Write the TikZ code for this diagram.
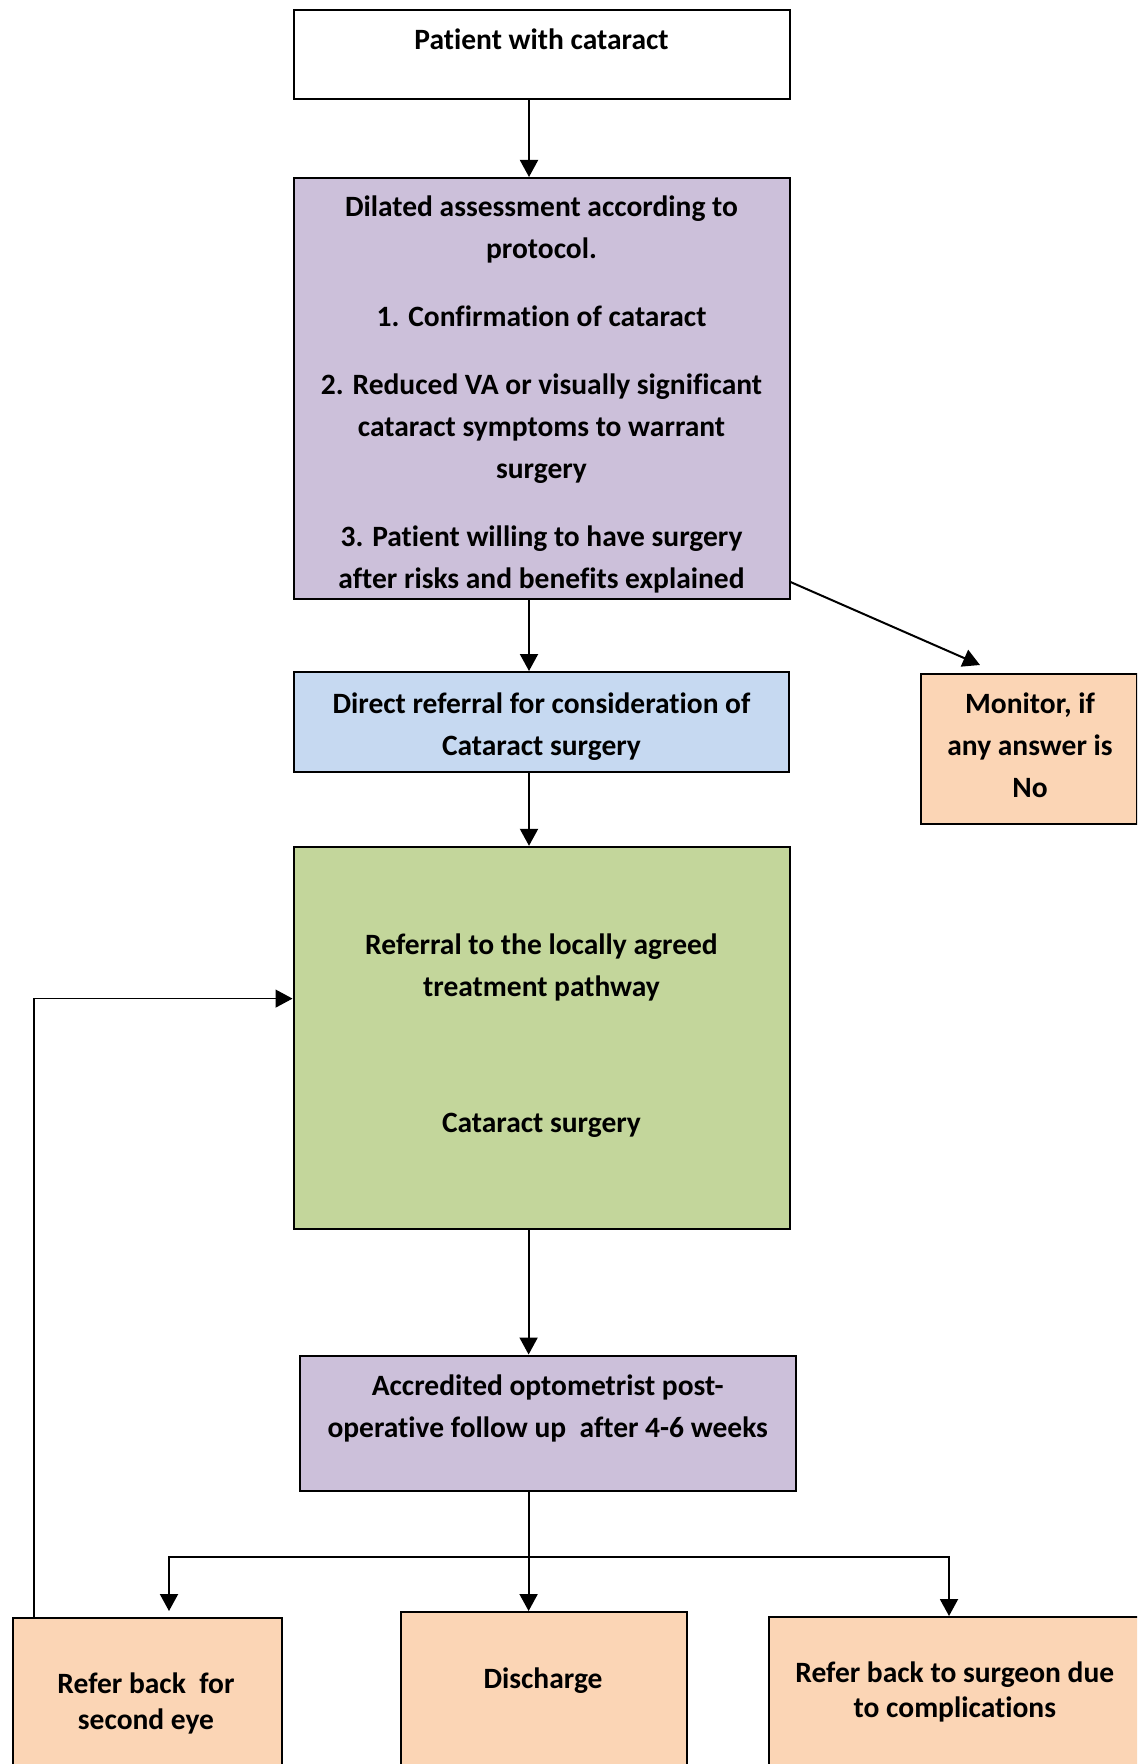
\documentclass[tikz,border=0pt]{standalone}
\usepackage{fontspec}
\setmainfont{Carlito}[Ligatures={NoCommon}]
\usetikzlibrary{arrows.meta}
\definecolor{cpurple}{HTML}{CCC0DA}
\definecolor{cblue}{HTML}{C6D9F1}
\definecolor{cgreen}{HTML}{C3D69B}
\definecolor{cpeach}{HTML}{FBD5B5}
\begin{document}
\begin{tikzpicture}[x=0.5pt,y=-0.5pt,
  box/.style={draw=black, line width=1pt, inner sep=0pt},
  txt/.style={font=\fontsize{14.75}{21}\selectfont\bfseries, align=center, inner sep=0pt},
  arr/.style={line width=1pt, -{Triangle[length=8.5pt,width=9pt]}},
  thinarr/.style={line width=0.6pt, -{Triangle[length=8.5pt,width=9pt]}},
]
\useasboundingbox (0,0) rectangle (1137,1764);
\clip (0,0) rectangle (1137,1764);
% boxes
\node[box, fill=white, minimum width=248pt, minimum height=44.5pt] (b1) at (541.5,54.5) {};
\node[box, fill=cpurple, minimum width=248pt, minimum height=210.5pt] (b2) at (541.5,388.5) {};
\node[box, fill=cblue, minimum width=247.5pt, minimum height=49.75pt] (b3) at (541,721.75) {};
\node[box, fill=cpeach, minimum width=108pt, minimum height=74.85pt] (mon) at (1029,749.15) {};
\node[box, fill=cgreen, minimum width=248pt, minimum height=191.2pt] (b4) at (541.5,1038) {};
\node[box, fill=cpurple, minimum width=248pt, minimum height=67.5pt] (b5) at (547.5,1423) {};
\node[box, fill=cpeach, minimum width=134.7pt, minimum height=100pt, anchor=north west] (lb) at (11.6,1617) {};
\node[box, fill=cpeach, minimum width=143.2pt, minimum height=100pt, anchor=north west] (dis) at (399.6,1611) {};
\node[box, fill=cpeach, minimum width=220pt, minimum height=100pt, anchor=north west] (rb) at (768,1616) {};
% texts
\node[txt] (t1) at (541.5,39.4) {Patient with cataract};
\node[txt] (t2) at (541.5,394) {Dilated assessment according to\\protocol.\\[13pt]1. Confirmation of cataract\\[13pt]2. Reduced VA or visually significant\\cataract symptoms to warrant\\surgery\\[13pt]3. Patient willing to have surgery\\after risks and benefits explained};
\node[txt] (t3) at (541.5,726.5) {Direct referral for consideration of\\Cataract surgery};
\node[txt] (tm) at (1030,745.6) {Monitor, if\\any answer is\\No};
\node[txt] (t4) at (541.5,1036) {Referral to the locally agreed\\treatment pathway\\[47pt]Cataract surgery};
\node[txt] (t5) at (547.7,1408.2) {Accredited optometrist post-\\operative follow up\ \ after 4-6 weeks};
\node[txt, font=\fontsize{14.75}{18}\selectfont\bfseries] (tl) at (146,1703) {Refer back\ \ for\\second eye};
\node[txt] (td) at (543,1680.5) {Discharge};
\node[txt, font=\fontsize{14.75}{17.4}\selectfont\bfseries] (tr) at (954.8,1692.3) {Refer back to surgeon due\\to complications};
% connectors
\coordinate (cx) at (529,0);
\coordinate (cx2) at (528.6,0);
\draw[arr] (b1.south -| cx) -- (b2.north -| cx);
\draw[arr] (b2.south -| cx) -- (b3.north -| cx);
\draw[arr] (b3.south -| cx) -- (b4.north -| cx);
\draw[arr] (b4.south -| cx2) -- (b5.north -| cx2);
\coordinate (split) at (528.6,1557);
\draw[line width=1pt] (b5.south -| cx2) -- (split);
\draw[arr] (split) -- (dis.north -| split);
\coordinate (ltip) at (169,1611);
\coordinate (rx) at (949,0);
\draw[arr] (split) -| (ltip);
\draw[arr] (split) -| (rb.north -| rx);
\coordinate (d1) at (788,582);
\coordinate (dtip) at (980,665);
\draw[arr] (b2.east |- d1) -- (dtip);
\coordinate (fb) at (34,998.6);
\draw[thinarr] (lb.north -| fb) |- (b4.west |- fb);
\end{tikzpicture}
\end{document}
